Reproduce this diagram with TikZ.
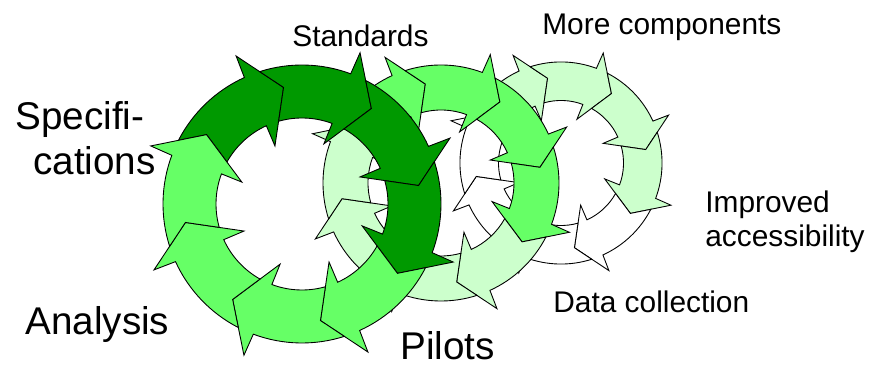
\documentclass[tikz,border=0pt]{standalone}
\usepackage{fontspec}
\setmainfont{Liberation Sans}
\definecolor{dkg}{RGB}{0,153,0}
\definecolor{mdg}{RGB}{102,255,102}
\definecolor{plg}{RGB}{204,255,204}
\tikzset{
  ringarrow/.style={draw=black,line width=0.5pt,line join=miter},
  lbl/.style={font=\fontsize{17}{20}\selectfont,inner sep=0pt,anchor=base west},
  biglbl/.style={font=\fontsize{22}{26}\selectfont,inner sep=0pt,anchor=base west}
}
\newcommand{\cyclering}[5]{%
  \begin{scope}[shift={(#1,#2)},scale=#3]
    \foreach \kk in {0,...,7}{
      \pgfmathsetmacro{\tipA}{99-45*\kk}
      \pgfmathsetmacro{\prvA}{\tipA+45}
      \ifnum\kk<4 \def\colr{#4}\else\def\colr{#5}\fi
      \draw[ringarrow,fill=\colr] (\prvA+8.73:139)
        arc[start angle=\prvA+8.73,end angle=\tipA+15.5,radius=139]
        -- (\tipA+15:162) -- (\tipA:118) -- (\tipA+16:64) -- (\tipA+15.5:86)
        arc[start angle=\tipA+15.5,end angle=\prvA+6.78,radius=86]
        -- (\prvA:118) -- cycle;
    }
  \end{scope}}
\begin{document}
\begin{tikzpicture}[x=0.02cm,y=0.02cm]
  \useasboundingbox (0,0) rectangle (882,368);
  \cyclering{561}{205}{0.727}{plg}{white}
  \cyclering{441}{185}{0.849}{mdg}{plg}
  \cyclering{302}{164}{1}{dkg}{mdg}
  \node[lbl] (std) at (292,321) {Standards};
  \node[lbl] (more) at (542,333) {More components};
  \node[biglbl] (spec) at (15,238) {Specifi-};
  \node[biglbl] (cat) at (33,193) {cations};
  \node[biglbl] (ana) at (25,33) {Analysis};
  \node[biglbl] (pil) at (400,8) {Pilots};
  \node[lbl] (imp) at (705,155) {Improved};
  \node[lbl] (acc) at (705,121) {accessibility};
  \node[lbl] (dat) at (553,55) {Data collection};
\end{tikzpicture}
\end{document}
